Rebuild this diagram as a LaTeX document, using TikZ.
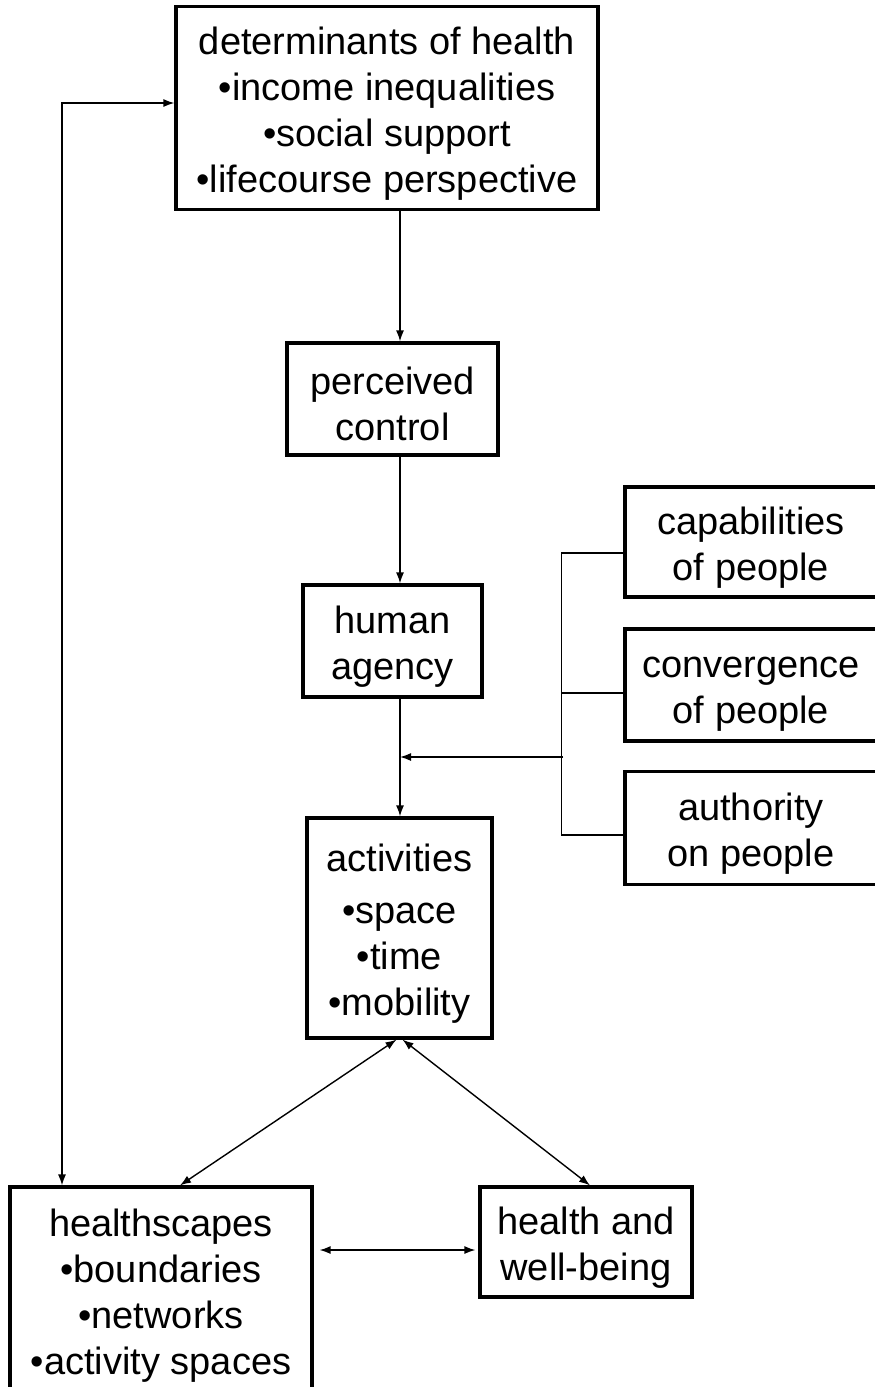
\documentclass[tikz,border=0pt]{standalone}
\usepackage{fontspec}
\setmainfont{Liberation Sans}
\usetikzlibrary{arrows.meta,calc}
\newcommand\topstrutx{\rule{0pt}{38pt}}
\begin{document}
\begin{tikzpicture}[x=1pt,y=-1pt,
  box/.style={draw, line width=3.2pt, align=center, inner sep=0pt, font=\fontsize{38}{46}\selectfont},
  conn/.style={line width=1.4pt},
  tip/.style={-{Latex[length=11pt,width=8pt]}},
  both/.style={{Latex[length=11pt,width=8pt]}-{Latex[length=11pt,width=8pt]}},
]
\clip (0,0) rectangle (875,1387);
\fill[white] (0,0) rectangle (875,1387);
\node[box, minimum width=422pt, minimum height=203pt] (det) at (387,108) {\topstrutx determinants of health\\•income inequalities\\•social support\\•lifecourse perspective};
\node[box, minimum width=211pt, minimum height=112pt] (pc) at (392.5,399) {\topstrutx perceived\\control};
\node[box, minimum width=179pt, minimum height=112pt] (ha) at (392.5,641) {\topstrutx human\\agency};
\node[box, minimum width=185pt, minimum height=220pt] (act) at (399.5,928) {\topstrutx activities\\[6pt]•space\\•time\\•mobility};
\node[box, minimum width=252pt, minimum height=110pt] (cap) at (751,542) {\topstrutx capabilities\\of people};
\node[box, minimum width=252pt, minimum height=112pt] (conv) at (751,685) {\topstrutx convergence\\of people};
\node[box, minimum width=252pt, minimum height=113pt] (auth) at (751,828) {\topstrutx authority\\on people};
\node[box, minimum width=302pt, minimum height=206pt] (hs) at (161,1290) {\topstrutx healthscapes\\•boundaries\\•networks\\•activity spaces};
\node[box, minimum width=212pt, minimum height=110pt] (hw) at (586,1242) {\topstrutx health and\\well-being};
\coordinate (sx) at (400,0);
\draw[conn,tip] (det.south -| sx) -- (pc.north -| sx);
\draw[conn,tip] (pc.south -| sx) -- (ha.north -| sx);
\draw[conn,tip] (ha.south -| sx) -- (act.north -| sx);
\coordinate (bx) at (563,757);
\draw[conn] ($(cap.west)+(0,11)$) -| ($(auth.west)+(-62,7)$) -- ($(auth.west)+(0,7)$);
\draw[conn] ($(conv.west)+(0,8)$) -- +(-62,0);
\draw[conn,tip] (bx) -- (bx -| sx);
\coordinate (lx) at (62,103);
\draw[conn,both] (hs.north -| lx) -- (lx) -- (lx -| det.west);
\draw[conn,both] ($(act.south)+(-3,0)$) -- ($(hs.north)+(19,0)$);
\draw[conn,both] ($(act.south)+(3,0)$) -- ($(hw.north)+(4,0)$);
\draw[conn,both] ($(hs.east |- hw.west)+(6,8)$) -- ($(hw.west)+(-3,8)$);
\end{tikzpicture}
\end{document}
